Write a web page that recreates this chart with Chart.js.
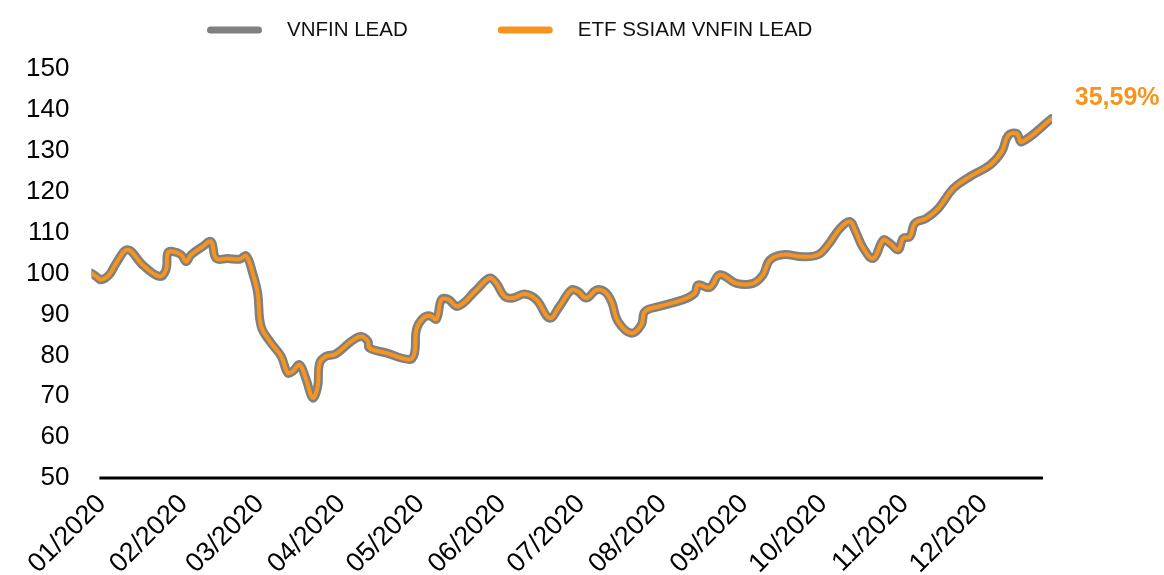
<!DOCTYPE html>
<html>
<head>
<meta charset="utf-8">
<script src="https://cdn.jsdelivr.net/npm/chart.js@4/dist/chart.umd.min.js"></script>
<style>
  html, body { margin: 0; padding: 0; background: #fff; }
  #wrap { width: 1164px; height: 575px; }
</style>
</head>
<body>
<div id="wrap"><canvas id="chart" width="1164" height="575"></canvas></div>
<script>
// day of year (0 = first session of 2020) and index level
const days = [0, 1.8, 3.7, 6.8, 9.4, 13.8, 19.5, 25.9, 28.4, 29.0, 30.9, 34.1, 36.0, 37.9, 42.3, 45.5,
  47.4, 51.8, 56.3, 58.8, 61.3, 63.2, 64.5, 68.3, 72.1, 74.6, 76.5, 79.1, 81.6, 84.1, 86.0, 86.7,
  89.2, 92.4, 94.3, 98.7, 102.5, 105.1, 105.6, 112.0, 120.9, 122.8, 123.5, 126.0, 128.5, 131.1, 133.0,
  135.5, 139.3, 146.3, 151.3, 153.9, 157.0, 160.2, 164.6, 169.1, 174.1, 177.9, 182.4, 184.9, 188.1,
  191.9, 195.0, 197.6, 200.1, 205.2, 209.0, 210.3, 216.0, 224.8, 229.3, 230.5, 235.0, 238.8, 245.1,
  251.4, 255.2, 257.8, 262.8, 270.4, 276.1, 279.9, 284.4, 288.2, 290.1, 293.3, 297.1, 300.9, 303.4,
  306.6, 308.4, 311.0, 312.9, 317.3, 321.8, 327.5, 333.8, 341.4, 345.9, 348.4, 351.6, 353.5, 364.9];

const vnfinLead = [100.1, 99.3, 98.5, 99.7, 102.5, 105.8, 102.1, 99.3, 101.0, 105.0, 105.4, 104.6, 102.9, 104.6, 106.6, 107.8,
  103.7, 103.7, 103.5, 104.3, 100.1, 95.2, 87.1, 83.0, 79.8, 75.7, 76.1, 77.7, 74.1, 69.6, 72.4, 78.1,
  79.8, 80.2, 81.0, 83.4, 84.6, 83.4, 81.8, 80.6, 79.0, 80.6, 86.3, 89.1, 89.7, 88.9, 93.6,
  93.7, 92.0, 96.0, 98.9, 97.6, 94.4, 94.0, 95.0, 93.6, 89.1, 92.0, 96.0, 95.6, 94.0,
  96.0, 95.6, 93.2, 88.3, 85.4, 87.5, 90.7, 92.0, 93.6, 95.2, 97.2, 96.6, 99.7, 97.6,
  97.6, 99.7, 103.3, 104.6, 104.1, 104.6, 107.0, 111.0, 112.7, 110.7, 106.2, 103.7, 108.2, 107.4,
  105.8, 108.6, 109.0, 112.3, 113.5, 115.9, 120.8, 123.7, 126.5, 129.8, 133.8, 134.2, 132.2, 137.9];

// the ETF tracks the index and sits on top of it
const etfLead = [100.1, 99.3, 98.5, 99.7, 102.5, 105.8, 102.1, 99.3, 101.0, 105.0, 105.4, 104.6, 102.9, 104.6, 106.6, 107.8,
  103.7, 103.7, 103.5, 104.3, 100.1, 95.2, 87.1, 83.0, 79.8, 75.7, 76.1, 77.7, 74.1, 69.6, 72.4, 78.1,
  79.8, 80.2, 81.0, 83.4, 84.6, 83.4, 81.8, 80.6, 79.0, 80.6, 86.3, 89.1, 89.7, 88.9, 93.6,
  93.7, 92.0, 96.0, 98.9, 97.6, 94.4, 94.0, 95.0, 93.6, 89.1, 92.0, 96.0, 95.6, 94.0,
  96.0, 95.6, 93.2, 88.3, 85.4, 87.5, 90.7, 92.0, 93.6, 95.2, 97.2, 96.6, 99.7, 97.6,
  97.6, 99.7, 103.3, 104.6, 104.1, 104.6, 107.0, 111.0, 112.7, 110.7, 106.2, 103.7, 108.2, 107.4,
  105.8, 108.6, 109.0, 112.3, 113.5, 115.9, 120.8, 123.7, 126.5, 129.8, 133.8, 134.2, 132.2, 137.9];

const monthTicks = [4, 35, 64, 95, 125, 156, 186, 217, 248, 278, 309, 339];
const monthLabels = ['01/2020', '02/2020', '03/2020', '04/2020', '05/2020', '06/2020',
  '07/2020', '08/2020', '09/2020', '10/2020', '11/2020', '12/2020'];
const yTicks = [50, 60, 70, 80, 90, 100, 110, 120, 130, 140, 150];
const returnLabel = '35,59%';

const GREY = '#808080';
const ORANGE = '#F7941D';
const FONT = "'Liberation Sans', Arial, sans-serif";

// legend drawn by hand: grey item first, orange item second
const topLegend = {
  id: 'topLegend',
  afterDraw(chart) {
    const ctx = chart.ctx;
    const items = chart.data.datasets.slice().reverse();
    ctx.save();
    ctx.font = '20.5px ' + FONT;
    ctx.textBaseline = 'middle';
    let x = 207;
    const y = 30;
    items.forEach(ds => {
      ctx.strokeStyle = ds.borderColor;
      ctx.lineWidth = 7;
      ctx.lineCap = 'round';
      ctx.beginPath();
      ctx.moveTo(x + 3.5, y);
      ctx.lineTo(x + 51.5, y);
      ctx.stroke();
      x += 80;
      ctx.fillStyle = '#111';
      ctx.fillText(ds.label, x, y);
      x += ctx.measureText(ds.label).width + 90;
    });
    ctx.restore();
  }
};

const baseLine = {
  id: 'baseLine',
  afterDatasetsDraw(chart) {
    const { ctx, chartArea } = chart;
    const y = chart.scales.y.getPixelForValue(50);
    ctx.save();
    ctx.strokeStyle = '#000';
    ctx.lineWidth = 3;
    ctx.beginPath();
    ctx.moveTo(chartArea.left + 8, y);
    ctx.lineTo(chartArea.right - 9, y);
    ctx.stroke();
    ctx.restore();
  }
};

const endLabel = {
  id: 'endLabel',
  afterDatasetsDraw(chart) {
    const meta = chart.getDatasetMeta(0);
    const last = meta.data[meta.data.length - 1];
    const ctx = chart.ctx;
    ctx.save();
    ctx.font = 'bold 25px ' + FONT;
    ctx.fillStyle = ORANGE;
    ctx.textBaseline = 'middle';
    ctx.fillText(returnLabel, last.x + 23, last.y - 20);
    ctx.restore();
  }
};

const ctx = document.getElementById('chart').getContext('2d');
const chart = new Chart(ctx, {
  type: 'line',
  data: {
    datasets: [
      {
        label: 'ETF SSIAM VNFIN LEAD',
        data: days.map((d, i) => ({ x: d, y: etfLead[i] })),
        borderColor: ORANGE,
        borderWidth: 4
      },
      {
        label: 'VNFIN LEAD',
        data: days.map((d, i) => ({ x: d, y: vnfinLead[i] })),
        borderColor: GREY,
        borderWidth: 9
      }
    ]
  },
  options: {
    responsive: false,
    animation: false,
    layout: { padding: { left: 4, right: 112, top: 69, bottom: -15 } },
    elements: {
      point: { radius: 0 },
      line: { tension: 0.4, borderJoinStyle: 'round', borderCapStyle: 'round', fill: false }
    },
    scales: {
      x: {
        type: 'linear',
        min: 0,
        max: 365,
        grid: { display: false, drawTicks: false },
        border: { display: false },
        afterBuildTicks: axis => {
          axis.ticks = monthTicks.map(v => ({ value: v }));
        },
        ticks: {
          autoSkip: false,
          maxRotation: 45,
          minRotation: 45,
          padding: 10,
          color: '#000',
          font: { family: FONT, size: 27 },
          callback: (v, i) => monthLabels[i]
        }
      },
      y: {
        min: 50,
        max: 150,
        grid: { display: false, drawTicks: false },
        border: { display: false },
        afterBuildTicks: axis => {
          axis.ticks = yTicks.map(v => ({ value: v }));
        },
        ticks: {
          padding: 22,
          color: '#000',
          font: { family: FONT, size: 26 }
        }
      }
    },
    plugins: {
      tooltip: { enabled: false },
      legend: { display: false }
    }
  },
  plugins: [baseLine, endLabel, topLegend]
});
</script>
</body>
</html>
